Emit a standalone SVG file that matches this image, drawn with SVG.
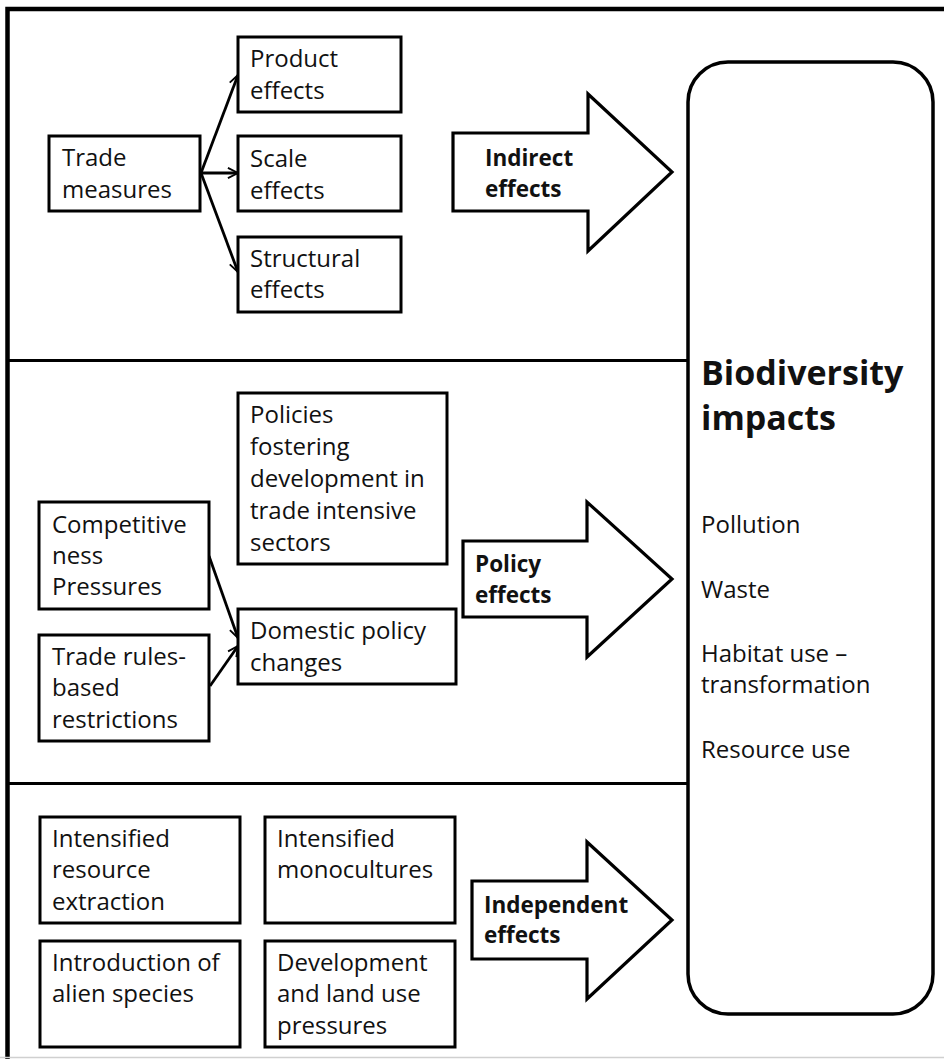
<svg xmlns="http://www.w3.org/2000/svg" width="944" height="1059" viewBox="0 0 944 1059">
<style>
.box{fill:#fff;stroke:#000;stroke-width:3}
.big{fill:#fff;stroke:#000;stroke-width:3.2}
.t{font-family:"Open Sans","Liberation Sans",sans-serif;font-size:24px;fill:#111}
.b{font-family:"Open Sans","Liberation Sans",sans-serif;font-size:22.5px;font-weight:bold;fill:#111}
.h{font-family:"Open Sans","Liberation Sans",sans-serif;font-size:34px;font-weight:bold;fill:#111}
.con{fill:none;stroke:#000;stroke-width:2.8}
.frame{fill:none;stroke:#000}
</style>
<defs>
<marker id="ah" viewBox="0 0 10 10" refX="9" refY="5" markerWidth="4.5" markerHeight="4.5" orient="auto" markerUnits="strokeWidth">
<path d="M1,1 L9,5 L1,9" fill="none" stroke="#000" stroke-width="1.5"/>
</marker>
</defs>
<rect x="0" y="0" width="944" height="1059" fill="#fff"/>
<g id="frame">
<path class="frame" d="M7.5,1059 L7.5,9 L944,9" stroke-width="4.5"/>
<line x1="0" y1="1057.5" x2="944" y2="1057.5" stroke="#d0d0d0" stroke-width="1.5"/>
<line class="frame" x1="7" y1="360.5" x2="688" y2="360.5" stroke-width="3"/>
<line class="frame" x1="7" y1="783.5" x2="688" y2="783.5" stroke-width="3"/>
</g>
<g id="connectors">
<line class="con" x1="201" y1="173" x2="238" y2="75" marker-end="url(#ah)"/>
<line class="con" x1="201" y1="173" x2="238" y2="173" marker-end="url(#ah)"/>
<line class="con" x1="201" y1="173" x2="238" y2="272" marker-end="url(#ah)"/>
<line class="con" x1="209" y1="556" x2="238" y2="638" marker-end="url(#ah)"/>
<line class="con" x1="210" y1="686" x2="238" y2="646" marker-end="url(#ah)"/>
</g>
<g id="biodiversity">
<rect x="688" y="62" width="245" height="952" rx="40" ry="40" fill="#fff" stroke="#000" stroke-width="3.5"/>
<text class="h" x="701" y="385">Biodiversity</text>
<text class="h" x="701" y="430">impacts</text>
<text class="t" x="701" y="533">Pollution</text>
<text class="t" x="701" y="598">Waste</text>
<text class="t" x="701" y="662">Habitat use –</text>
<text class="t" x="701" y="693">transformation</text>
<text class="t" x="701" y="758">Resource use</text>
</g>
<g id="trade-measures">
<rect class="box" x="49" y="136" width="151" height="75"/>
<text class="t" x="62" y="166">Trade</text>
<text class="t" x="62" y="198">measures</text>
</g>
<g id="product-effects">
<rect class="box" x="238" y="37" width="163" height="75"/>
<text class="t" x="250" y="67">Product</text>
<text class="t" x="250" y="99">effects</text>
</g>
<g id="scale-effects">
<rect class="box" x="238" y="136" width="163" height="75"/>
<text class="t" x="250" y="167">Scale</text>
<text class="t" x="250" y="199">effects</text>
</g>
<g id="structural-effects">
<rect class="box" x="238" y="237" width="163" height="75"/>
<text class="t" x="250" y="267">Structural</text>
<text class="t" x="250" y="298">effects</text>
</g>
<g id="indirect-effects">
<polygon class="big" points="453,133 588,133 588,94 672,172 588,251 588,211 453,211"/>
<text class="b" x="485" y="166">Indirect</text>
<text class="b" x="485" y="197">effects</text>
</g>
<g id="policies-fostering">
<rect class="box" x="238" y="393" width="209" height="171"/>
<text class="t" x="250" y="423">Policies</text>
<text class="t" x="250" y="455">fostering</text>
<text class="t" x="250" y="487">development in</text>
<text class="t" x="250" y="519">trade intensive</text>
<text class="t" x="250" y="551">sectors</text>
</g>
<g id="competitiveness">
<rect class="box" x="39" y="502" width="170" height="107"/>
<text class="t" x="52" y="533">Competitive</text>
<text class="t" x="52" y="564">ness</text>
<text class="t" x="52" y="595">Pressures</text>
</g>
<g id="trade-rules">
<rect class="box" x="39" y="635" width="170" height="106"/>
<text class="t" x="52" y="665">Trade rules-</text>
<text class="t" x="52" y="696">based</text>
<text class="t" x="52" y="728">restrictions</text>
</g>
<g id="domestic-policy">
<rect class="box" x="238" y="609" width="218" height="75"/>
<text class="t" x="250" y="639">Domestic policy</text>
<text class="t" x="250" y="671">changes</text>
</g>
<g id="policy-effects">
<polygon class="big" points="463,541 587,541 587,502 672,579 587,657 587,617 463,617"/>
<text class="b" x="475" y="572">Policy</text>
<text class="b" x="475" y="603">effects</text>
</g>
<g id="intensified-resource">
<rect class="box" x="40" y="817" width="200" height="106"/>
<text class="t" x="52" y="847">Intensified</text>
<text class="t" x="52" y="878">resource</text>
<text class="t" x="52" y="910">extraction</text>
</g>
<g id="intensified-monocultures">
<rect class="box" x="265" y="817" width="190" height="106"/>
<text class="t" x="277" y="847">Intensified</text>
<text class="t" x="277" y="878">monocultures</text>
</g>
<g id="alien-species">
<rect class="box" x="40" y="941" width="200" height="106"/>
<text class="t" x="52" y="971">Introduction of</text>
<text class="t" x="52" y="1002">alien species</text>
</g>
<g id="development-land-use">
<rect class="box" x="265" y="941" width="190" height="106"/>
<text class="t" x="277" y="971">Development</text>
<text class="t" x="277" y="1002">and land use</text>
<text class="t" x="277" y="1034">pressures</text>
</g>
<g id="independent-effects">
<polygon class="big" points="472,881 587,881 587,842 672,920 587,999 587,959 472,959"/>
<text class="b" x="484" y="913">Independent</text>
<text class="b" x="484" y="943">effects</text>
</g>
</svg>
